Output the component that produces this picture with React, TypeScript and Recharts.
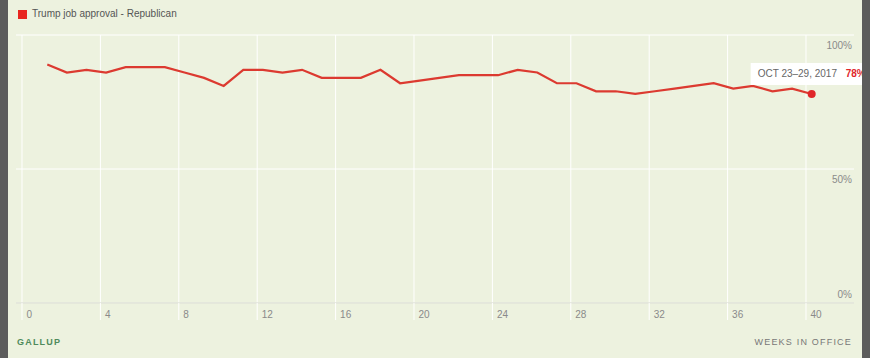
import React from 'react';
import { LineChart, Line, XAxis, YAxis, CartesianGrid } from 'recharts';

// Week position (weeks since inauguration, at the end of each Gallup polling week)
const weeksInOffice = [
  1.29, 2.29, 3.29, 4.29, 5.29, 6.29, 7.29, 8.29, 9.29, 10.29,
  11.29, 12.29, 13.29, 14.29, 15.29, 16.29, 17.29, 18.29, 19.29, 20.29,
  21.29, 22.29, 23.29, 24.29, 25.29, 26.29, 27.29, 28.29, 29.29, 30.29,
  31.29, 32.29, 33.29, 34.29, 35.29, 36.29, 37.29, 38.29, 39.29, 40.29,
];

// Trump job approval among Republicans (%)
const republicanApproval = [
  89, 86, 87, 86, 88, 88, 88, 86, 84, 81,
  87, 87, 86, 87, 84, 84, 84, 87, 82, 83,
  84, 85, 85, 85, 87, 86, 82, 82, 79, 79,
  78, 79, 80, 81, 82, 80, 81, 79, 80, 78,
];

const xTicks = [0, 4, 8, 12, 16, 20, 24, 28, 32, 36, 40];
const yTicks = [0, 50, 100];
const seriesName = 'Trump job approval - Republican';
const latestLabel = 'OCT 23\u201329, 2017';
const sourceLabel = 'GALLUP';
const xAxisTitle = 'WEEKS IN OFFICE';

const data = weeksInOffice.map((w, i) => ({ week: w, approval: republicanApproval[i] }));

const FONT = '"Liberation Sans", Arial, Helvetica, sans-serif';
const RED = '#e0262a';
const BG = '#edf2df';

const XTick = (props: any) => {
  const { x, y, payload } = props;
  return (
    <g>
      <line x1={x} x2={x} y1={y} y2={y + 17} stroke="#ffffff" strokeWidth={1} />
      <text x={x + 4.5} y={y + 14.5} fontSize={10} fill="#8a8a8a" fontFamily={FONT}>
        {payload.value}
      </text>
    </g>
  );
};

const YTick = (props: any) => {
  const { y, payload, viewBox } = props;
  const right = viewBox ? viewBox.x : props.x;
  const dy = payload.value === 0 ? -5.2 : 13.5;
  return (
    <text x={right - 2} y={y + dy} textAnchor="end" fontSize={10} fill="#8a8a8a" fontFamily={FONT}>
      {payload.value}%
    </text>
  );
};

const LastDot = (props: any) => {
  const { cx, cy, index, value } = props;
  if (index !== data.length - 1) return <g key={`d${index}`} />;
  return (
    <g key="last">
      <rect x={cx - 61} y={cy - 31} width={115} height={22} fill="#ffffff" />
      <text x={cx - 54} y={cy - 16.5} fontSize={10} fill="#666666" fontFamily={FONT}>
        {latestLabel}
      </text>
      <text x={cx + 34} y={cy - 16.5} fontSize={10} fontWeight="bold" fill={RED} fontFamily={FONT}>
        {value}%
      </text>
      <circle cx={cx} cy={cy} r={4} fill={RED} />
    </g>
  );
};

export default function App() {
  return (
    <div style={{ position: 'absolute', left: 0, top: 0, width: 870, height: 358, background: BG, overflow: 'hidden', fontFamily: FONT }}>
      <LineChart width={870} height={358} data={data} margin={{ top: 35, right: -24, bottom: 0, left: 16 }}>
        <CartesianGrid stroke="#ffffff" strokeWidth={1} verticalValues={xTicks} horizontalValues={yTicks} />
        <XAxis
          dataKey="week"
          type="number"
          domain={[-0.306, 42.449]}
          ticks={xTicks}
          height={55}
          tickSize={0}
          tickMargin={0}
          tickLine={false}
          axisLine={{ stroke: '#d3d7c8', strokeWidth: 1 }}
          tick={<XTick />}
          interval={0}
        />
        <YAxis
          orientation="right"
          type="number"
          domain={[0, 100]}
          ticks={yTicks}
          width={40}
          tickSize={0}
          tickMargin={0}
          tickLine={false}
          axisLine={false}
          tick={<YTick />}
          interval={0}
        />
        <Line
          type="linear"
          dataKey="approval"
          name={seriesName}
          stroke="#dc3a30"
          strokeWidth={2.2}
          dot={LastDot}
          activeDot={false}
          isAnimationActive={false}
        />
      </LineChart>

      <div style={{ position: 'absolute', left: 18, top: 10, width: 9, height: 9, background: '#e8261f' }} />
      <div style={{ position: 'absolute', left: 32, top: 7, fontSize: 10, lineHeight: '14px', color: '#555555', whiteSpace: 'nowrap' }}>
        {seriesName}
      </div>
      <div style={{ position: 'absolute', left: 17, top: 336, fontSize: 9, lineHeight: '12px', fontWeight: 'bold', letterSpacing: 1.2, color: '#4f8a5b' }}>
        {sourceLabel}
      </div>
      <div style={{ position: 'absolute', right: 18, top: 336, fontSize: 9, lineHeight: '12px', letterSpacing: 1.2, color: '#777777', whiteSpace: 'nowrap' }}>
        {xAxisTitle}
      </div>

      <div style={{ position: 'absolute', left: 0, top: 0, width: 8, height: 358, background: '#5c5c5c' }} />
      <div style={{ position: 'absolute', left: 862, top: 0, width: 8, height: 358, background: '#5c5c5c' }} />
    </div>
  );
}
